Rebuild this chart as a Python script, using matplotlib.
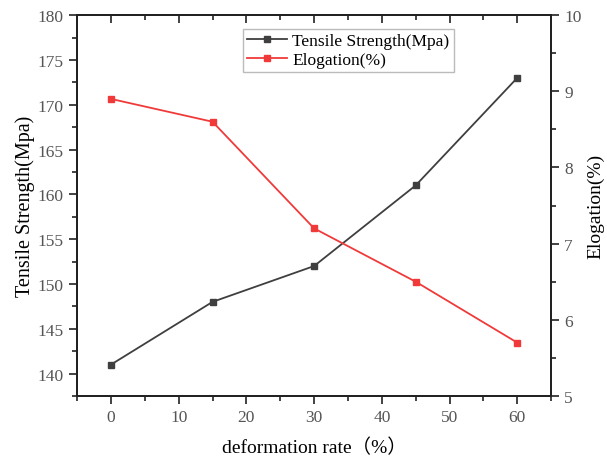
import matplotlib
matplotlib.use("Agg")
import matplotlib.pyplot as plt
from matplotlib.ticker import MultipleLocator

# --- DATA ---
deformation = [0, 15, 30, 45, 60]
tensile = [141, 148, 152, 161, 173]
elongation = [8.9, 8.6, 7.2, 6.5, 5.7]

plt.rcParams['font.family'] = ['Liberation Serif', 'Noto Sans CJK SC', 'DejaVu Sans']
dark = '#3f3f3f'
red = '#f03a3a'
tick_col = '#555555'
spine_col = '#222222'

fig = plt.figure(figsize=(6.07, 4.60), dpi=100)
ax = fig.add_axes([0.127, 0.137, 0.781, 0.828])
ax2 = ax.twinx()
# separate top axis so its ticks can point inward
ax3 = ax.twiny()

l1, = ax.plot(deformation, tensile, color=dark, marker='s', markersize=5, lw=1.3,
              label='Tensile Strength(Mpa)')
l2, = ax2.plot(deformation, elongation, color=red, marker='s', markersize=5, lw=1.3,
               label='Elogation(%)')

ax.set_xlim(-5, 65)
ax3.set_xlim(-5, 65)
ax.set_ylim(137.5, 180)
ax2.set_ylim(5, 10)

for a in (ax, ax3):
    a.xaxis.set_major_locator(MultipleLocator(10))
    a.xaxis.set_minor_locator(MultipleLocator(5))
ax.yaxis.set_major_locator(MultipleLocator(5))
ax.yaxis.set_minor_locator(MultipleLocator(2.5))
ax2.yaxis.set_major_locator(MultipleLocator(1))
ax2.yaxis.set_minor_locator(MultipleLocator(0.5))

for a in (ax, ax2, ax3):
    for s in a.spines.values():
        s.set_linewidth(1.3)
        s.set_color(spine_col)

ax.tick_params(axis='both', which='major', direction='out', length=6, width=1.2,
               labelsize=12.5, labelcolor=tick_col, color=spine_col)
ax.tick_params(axis='both', which='minor', direction='out', length=3.5, width=1.2,
               color=spine_col)
ax2.tick_params(axis='y', which='major', direction='out', length=6, width=1.2,
                labelsize=12.5, labelcolor=tick_col, color=spine_col)
ax2.tick_params(axis='y', which='minor', direction='out', length=3.5, width=1.2,
                color=spine_col)
ax3.tick_params(axis='x', which='major', direction='in', length=6, width=1.2,
                labeltop=False, color=spine_col)
ax3.tick_params(axis='x', which='minor', direction='in', length=3.5, width=1.2,
                color=spine_col)

ax.set_xlabel('deformation rate（%）', fontsize=14, labelpad=9)
ax.set_ylabel('Tensile Strength(Mpa)', fontsize=14.5, labelpad=2)
ax2.set_ylabel('Elogation(%)', fontsize=14, labelpad=4)

leg = ax3.legend(handles=[l1, l2], loc='upper left', bbox_to_anchor=(0.40, 0.935),
                 bbox_transform=fig.transFigure, fontsize=12.5, frameon=True,
                 fancybox=False, edgecolor='#aaaaaa', handlelength=2.3,
                 handletextpad=0.3, borderpad=0.25, labelspacing=0.15,
                 borderaxespad=0)
leg.get_frame().set_linewidth(1.0)

fig.savefig('out.png', dpi=100)
